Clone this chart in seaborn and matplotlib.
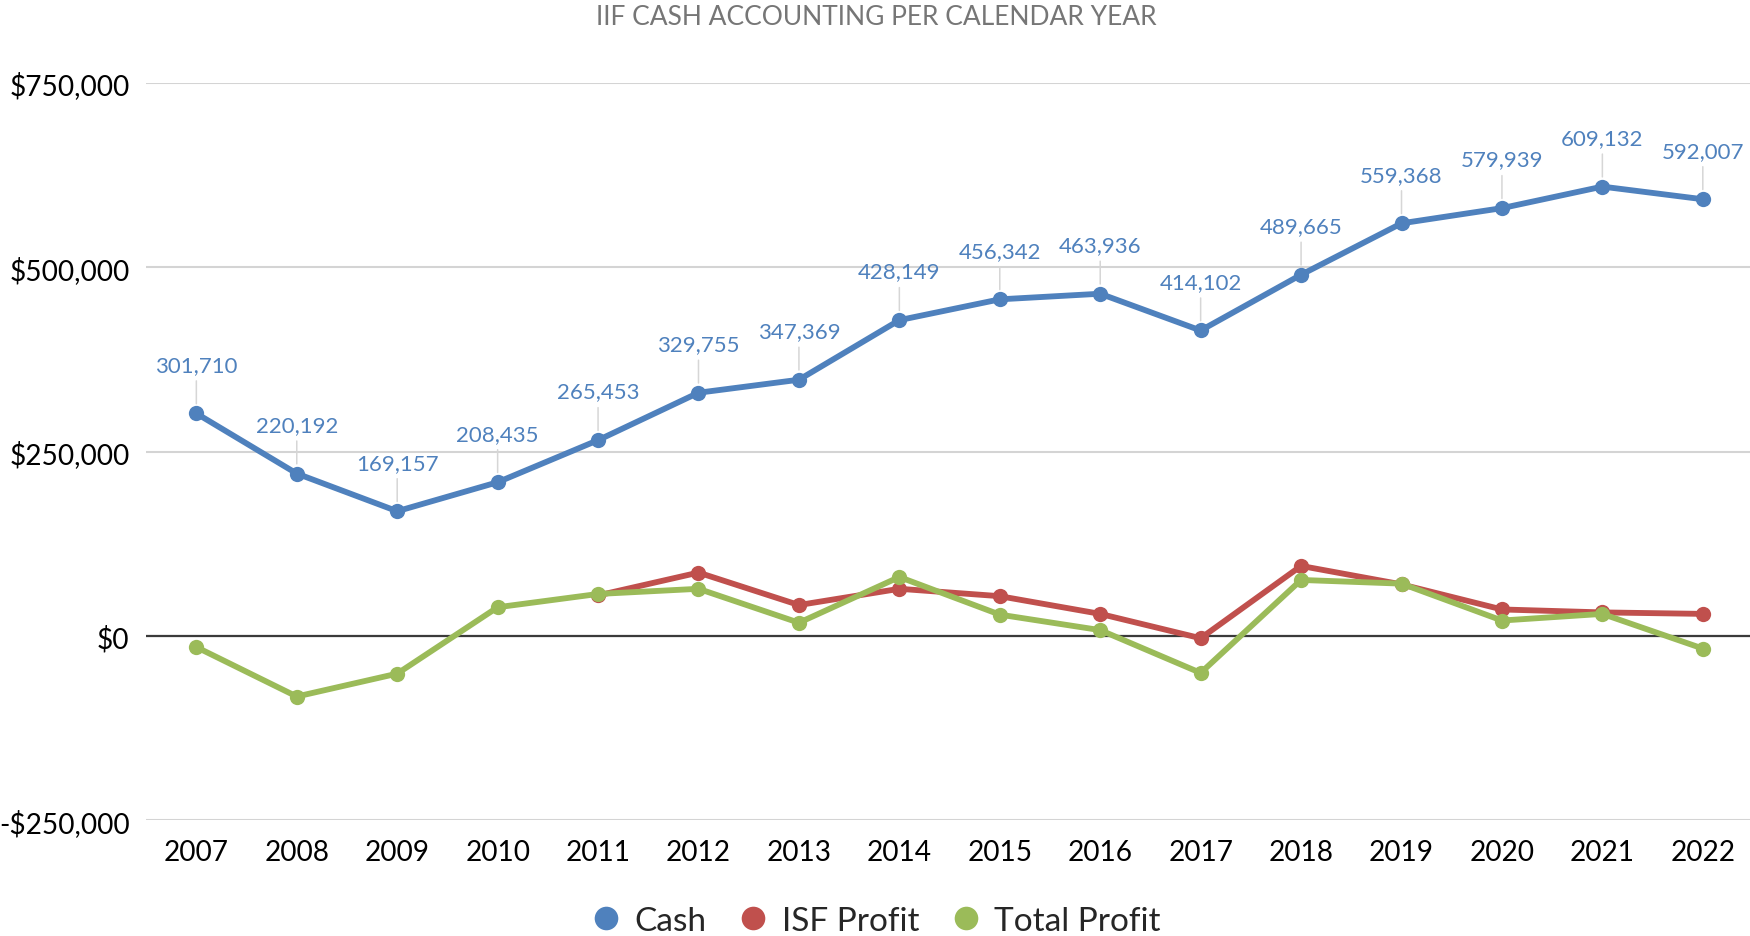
import numpy as np
import pandas as pd
import matplotlib
matplotlib.use("Agg")
import matplotlib.pyplot as plt
from matplotlib.lines import Line2D
import seaborn as sns

years = list(range(2007, 2023))
cash = [301710, 220192, 169157, 208435, 265453, 329755, 347369, 428149,
        456342, 463936, 414102, 489665, 559368, 579939, 609132, 592007]
isf_profit = [np.nan, np.nan, np.nan, np.nan, 55000, 86000, 42000, 64000,
              54000, 30000, -3000, 95000, 70000, 36000, 32000, 30000]
total_profit = [-15000, -82000, -51000, 39000, 57000, 64000, 18000, 80000,
                29000, 8000, -50000, 76000, 71000, 21000, 30000, -17000]
y_ticks = [-250000, 0, 250000, 500000, 750000]
title = "IIF CASH ACCOUNTING PER CALENDAR YEAR"

c_blue = "#4F81BD"
c_red = "#C0504D"
c_green = "#9BBB59"

sns.set_style("white")
plt.rcParams["font.family"] = ["Lato", "DejaVu Sans"]

fig = plt.figure(figsize=(17.5, 9.37), dpi=100)
ax = fig.add_axes([0.0835, 0.1233, 0.9165, 0.7874])

df = pd.DataFrame({"Year": years, "Cash": cash, "ISF Profit": isf_profit,
                   "Total Profit": total_profit})

for col, colr, z in [("Cash", c_blue, 5), ("ISF Profit", c_red, 3), ("Total Profit", c_green, 4)]:
    sns.lineplot(data=df, x="Year", y=col, ax=ax, color=colr, linewidth=4.2,
                 marker="o", markersize=11, markeredgewidth=0, zorder=z)

for x, v in zip(years, cash):
    ax.annotate(f"{v:,}", xy=(x, v), xytext=(0, 35), textcoords="offset points",
                ha="center", va="center", fontsize=16, color=c_blue,
                arrowprops=dict(arrowstyle="-", color="#d6d6d6", lw=1.1,
                                shrinkA=2, shrinkB=7),
                annotation_clip=False, zorder=6)

ax.set_xlim(2006.5, 2022.47)
ax.set_ylim(-250000, 750000)
ax.set_xticks(years)
ax.set_xticklabels([str(y) for y in years])
ax.set_yticks(y_ticks)
ax.set_yticklabels([("-$" if t < 0 else "$") + f"{abs(t):,}" for t in y_ticks])
ax.tick_params(axis="both", length=0, labelsize=20.2, colors="black")
ax.tick_params(axis="x", pad=13)
ax.tick_params(axis="y", pad=12)
ax.set_xlabel("")
ax.set_ylabel("")
for s in ax.spines.values():
    s.set_visible(False)
ax.grid(axis="y", color="#d4d4d4", linewidth=1.5, zorder=0)
ax.grid(axis="x", visible=False)
ax.axhline(0, color="#3a3a3a", linewidth=1.6, zorder=1)

fig.text(0.501, 0.981, title, ha="center", va="center", fontsize=19, color="#767676")

handles = [Line2D([], [], marker="o", linestyle="none", markersize=17, color=c,
                  markeredgewidth=0) for c in (c_blue, c_red, c_green)]
fig.legend(handles, ["Cash", "ISF Profit", "Total Profit"], loc="center",
           bbox_to_anchor=(0.5, 0.016), ncol=3, frameon=False, fontsize=24,
           handletextpad=0.35, columnspacing=0.9, handlelength=1.0)

fig.savefig("out.png", dpi=100)
